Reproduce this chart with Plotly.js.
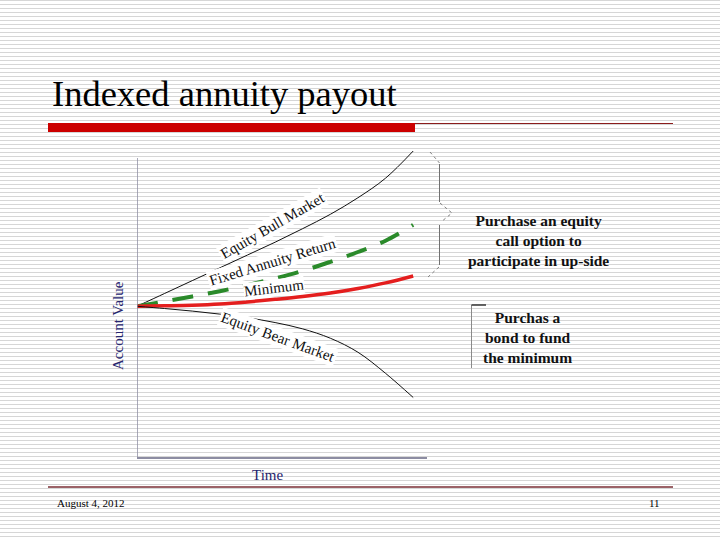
<!DOCTYPE html>
<html>
<head>
<meta charset="utf-8">
<script src="https://cdn.plot.ly/plotly-3.0.1.min.js"></script>
<style>
  html, body { margin: 0; padding: 0; }
  body {
    width: 720px; height: 540px; overflow: hidden;
    background: repeating-linear-gradient(to bottom, #d6d6d6 0px, #d6d6d6 1px, #ffffff 1px, #ffffff 4px);
  }
  #chart { width: 720px; height: 540px; }
</style>
</head>
<body>
<div id="chart"></div>
<script>
// ---- data (schematic values) ----
const time = [0, 1, 2, 3, 4, 5, 6, 7, 8, 9, 10];
const bullMarket = [100, 108.5, 117, 125.5, 134, 142.5, 151.5, 161, 172, 185, 203];
const fixedAnnuity = [100, 103.2, 106.5, 110, 114, 118.5, 123.5, 129.5, 136, 143.5, 154];
const minimumValue = [100, 100.3, 100.7, 101.5, 102.9, 104.6, 106.5, 108.8, 111.8, 115.5, 120.1];
const bearMarket = [100, 98.5, 96.8, 94.8, 92.4, 89.2, 85, 78.8, 69.5, 55.5, 39.5];

const seriesNames = ['Equity Bull Market', 'Fixed Annuity Return', 'Minimum', 'Equity Bear Market'];
const titleText = 'Indexed annuity payout';
const xTitle = 'Time';
const yTitle = 'Account Value';
const upsideNote = 'Purchase an equity<br>call option to<br>participate in up-side';
const bondNote = 'Purchas a<br>bond to fund<br>the minimum';
const footerDate = 'August 4, 2012';
const footerPage = '11';

// ---- layout helpers (pixel -> paper) ----
const L = 137, R = 427, T = 148, B = 457;
const W = R - L, H = B - T;
const px = x => (x - L) / W;
const py = y => (B - y) / H;

const serif = '"Liberation Serif", "Times New Roman", Times, serif';
const navy = '#25256e';

const traces = [
  { x: time, y: bullMarket, name: seriesNames[0], mode: 'lines',
    line: { color: '#111111', width: 1, shape: 'spline' } },
  { x: time, y: fixedAnnuity, name: seriesNames[1], mode: 'lines',
    line: { color: '#2a8a2a', width: 4, dash: '21px,15px', shape: 'spline' } },
  { x: time, y: minimumValue, name: seriesNames[2], mode: 'lines',
    line: { color: '#e41e1e', width: 3.5, shape: 'spline' } },
  { x: time, y: bearMarket, name: seriesNames[3], mode: 'lines',
    line: { color: '#111111', width: 1, shape: 'spline' } }
];

const labelFont = { family: serif, size: 15, color: '#111111' };
const noteFont = { family: serif, size: 15.5, color: '#111111' };

const layout = {
  width: 720, height: 540,
  margin: { l: L, r: 720 - R, t: T, b: 540 - B, pad: 0 },
  paper_bgcolor: 'rgba(0,0,0,0)',
  plot_bgcolor: 'rgba(0,0,0,0)',
  showlegend: false,
  font: { family: serif },
  title: {
    text: titleText,
    font: { family: serif, size: 36.5, color: '#000000' },
    xref: 'container', yref: 'container',
    x: 52 / 720, xanchor: 'left',
    y: 1 - 93 / 540, yanchor: 'middle'
  },
  xaxis: {
    range: [0, 10.5], showgrid: false, zeroline: false,
    showline: true, linecolor: '#8c8ca2', linewidth: 1.5,
    ticks: '', showticklabels: false, fixedrange: true
  },
  yaxis: {
    range: [0, 205], showgrid: false, zeroline: false,
    showline: false, ticks: '', showticklabels: false, fixedrange: true
  },
  shapes: [
    // y-axis line (stops below the top of the bull curve)
    { type: 'line', xref: 'x', yref: 'y', x0: 0, x1: 0, y0: 0, y1: (B - 158) / (H / 205),
      line: { color: '#8c8ca2', width: 1.5 } },
    // red header bar and thin rule
    { type: 'rect', xref: 'paper', yref: 'paper', x0: px(48), x1: px(415), y0: py(132), y1: py(123),
      fillcolor: '#cc0000', line: { width: 0 } },
    { type: 'line', xref: 'paper', yref: 'paper', x0: px(415), x1: px(673), y0: py(123.5), y1: py(123.5),
      line: { color: '#8b1c1c', width: 1 } },
    // footer rule
    { type: 'line', xref: 'paper', yref: 'paper', x0: px(48), x1: px(673), y0: py(487), y1: py(487),
      line: { color: '#7a2e34', width: 1.5 } },
    // brace: vertical parts
    { type: 'path', xref: 'paper', yref: 'paper',
      path: `M ${px(439.5)} ${py(164)} L ${px(439.5)} ${py(202)} M ${px(439.5)} ${py(225)} L ${px(439.5)} ${py(265)}`,
      line: { color: '#707070', width: 1 } },
    // brace: dotted corners
    { type: 'path', xref: 'paper', yref: 'paper',
      path: `M ${px(430)} ${py(152)} L ${px(439.5)} ${py(163)} M ${px(440)} ${py(203)} L ${px(452)} ${py(213)} L ${px(441)} ${py(222)} M ${px(439)} ${py(267)} L ${px(428)} ${py(277)}`,
      line: { color: '#808080', width: 1, dash: 'dot' } },
    // bond bracket
    { type: 'line', xref: 'paper', yref: 'paper', x0: px(471.5), x1: px(471.5), y0: py(305), y1: py(368),
      line: { color: '#8a8a8a', width: 1 } },
    { type: 'line', xref: 'paper', yref: 'paper', x0: px(471.5), x1: px(486), y0: py(305), y1: py(305),
      line: { color: '#333333', width: 1.5 } }
  ],
  annotations: [
    { text: seriesNames[0], x: 4.89, y: 153.3, xref: 'x', yref: 'y', showarrow: false,
      xanchor: 'center', yanchor: 'middle',
      textangle: -30, font: labelFont, bgcolor: '#ffffff', borderpad: 1 },
    { text: seriesNames[1], x: 4.89, y: 129.4, xref: 'x', yref: 'y', showarrow: false,
      xanchor: 'center', yanchor: 'middle',
      textangle: -17, font: labelFont, bgcolor: '#ffffff', borderpad: 1 },
    { text: seriesNames[2], x: 4.96, y: 112.1, xref: 'x', yref: 'y', showarrow: false,
      xanchor: 'center', yanchor: 'middle',
      textangle: -7, font: labelFont, bgcolor: '#ffffff', borderpad: 0 },
    { text: seriesNames[3], x: 5.1, y: 79.6, xref: 'x', yref: 'y', showarrow: false,
      xanchor: 'center', yanchor: 'middle',
      textangle: 20, font: labelFont, bgcolor: '#ffffff', borderpad: 1 },
    // axis titles
    { text: xTitle, x: px(267), y: py(475), xref: 'paper', yref: 'paper', showarrow: false,
      xanchor: 'center', yanchor: 'middle', font: { family: serif, size: 15, color: navy } },
    { text: yTitle, x: px(118), y: py(326), xref: 'paper', yref: 'paper', showarrow: false,
      xanchor: 'center', yanchor: 'middle', textangle: -90, font: { family: serif, size: 15, color: navy } },
    // side notes
    { text: '<b>' + upsideNote + '</b>', x: px(538), y: py(240), xref: 'paper', yref: 'paper',
      xanchor: 'center', yanchor: 'middle',
      showarrow: false, align: 'center', font: noteFont },
    { text: '<b>' + bondNote + '</b>', x: px(527), y: py(337), xref: 'paper', yref: 'paper',
      xanchor: 'center', yanchor: 'middle',
      showarrow: false, align: 'center', font: noteFont },
    // footer
    { text: footerDate, x: px(55), y: py(503), xref: 'paper', yref: 'paper', xanchor: 'left', yanchor: 'middle',
      showarrow: false, font: { family: serif, size: 11, color: '#000000' } },
    { text: footerPage, x: px(662), y: py(503), xref: 'paper', yref: 'paper', xanchor: 'right', yanchor: 'middle',
      showarrow: false, font: { family: serif, size: 11, color: '#000000' } }
  ]
};

Plotly.newPlot('chart', traces, layout, { staticPlot: true, displayModeBar: false });
</script>
</body>
</html>
